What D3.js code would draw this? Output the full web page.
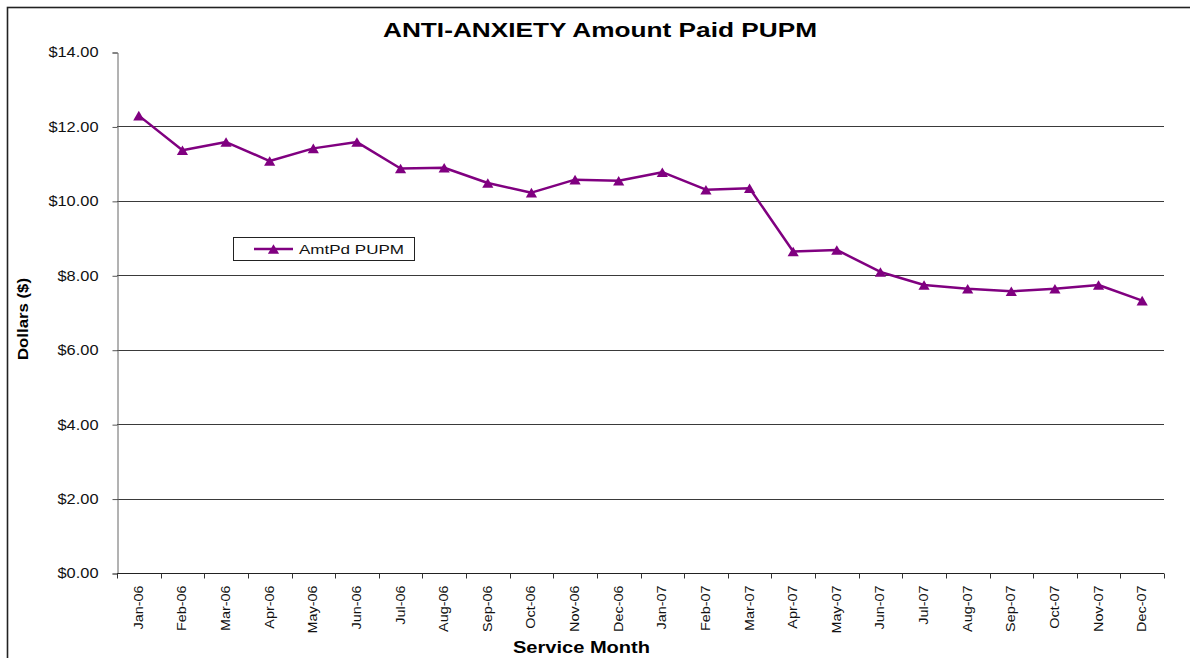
<!DOCTYPE html>
<html>
<head>
<meta charset="utf-8">
<script src="https://cdn.jsdelivr.net/npm/d3@7/dist/d3.min.js"></script>
<style>
  html, body { margin: 0; padding: 0; background: #fff; }
  svg { display: block; font-family: "Liberation Sans", Arial, sans-serif; }
</style>
</head>
<body>
<svg id="chart" width="1190" height="658"></svg>
<script>
// Service months (categories)
const months = ["Jan-06","Feb-06","Mar-06","Apr-06","May-06","Jun-06","Jul-06","Aug-06",
  "Sep-06","Oct-06","Nov-06","Dec-06","Jan-07","Feb-07","Mar-07","Apr-07","May-07",
  "Jun-07","Jul-07","Aug-07","Sep-07","Oct-07","Nov-07","Dec-07"];

// Amount paid per utilizing member per month, dollars
const amtPdPupm = [12.29, 11.36, 11.58, 11.07, 11.41, 11.58, 10.87, 10.89,
  10.48, 10.22, 10.57, 10.54, 10.77, 10.30, 10.34, 8.64, 8.68,
  8.09, 7.74, 7.64, 7.57, 7.64, 7.74, 7.32];

// Y axis tick values
const yTicks = [0, 2, 4, 6, 8, 10, 12, 14];

const seriesName = "AmtPd PUPM";
const titleText = "ANTI-ANXIETY Amount Paid PUPM";
const xTitle = "Service Month";
const yTitle = "Dollars ($)";

const purple = "#800080";
const svg = d3.select("#chart");

// Stretch text along its direction so the wide face of the chart font is kept
function stretch(sel, k) {
  sel.each(function () {
    const w = this.getComputedTextLength();
    this.setAttribute("textLength", (w * k).toFixed(1));
    this.setAttribute("lengthAdjust", "spacingAndGlyphs");
  });
}

// Chart frame
svg.append("rect")
  .attr("x", 7.5).attr("y", 7.5)
  .attr("width", 1200).attr("height", 700)
  .attr("fill", "none").attr("stroke", "#222").attr("stroke-width", 1.6);

const plot = { left: 117, right: 1164, top: 52, bottom: 573 };

const x = d3.scaleBand().domain(months).range([plot.left, plot.right]).padding(0);
const y = d3.scaleLinear().domain([0, 14]).range([plot.bottom, plot.top]);

// Horizontal gridlines
svg.append("g")
  .selectAll("line")
  .data(yTicks.filter(v => v > 0 && v < 14))
  .join("line")
  .attr("x1", plot.left).attr("x2", plot.right)
  .attr("y1", d => Math.round(y(d)) + 0.5).attr("y2", d => Math.round(y(d)) + 0.5)
  .attr("stroke", "#3a3a3a").attr("stroke-width", 1);

// Y axis
const yAxis = svg.append("g")
  .attr("transform", `translate(${plot.left + 0.5},0.5)`)
  .call(d3.axisLeft(y).tickValues(yTicks).tickSize(5).tickPadding(14)
    .tickFormat(d => "$" + d.toFixed(2)));
yAxis.select(".domain").attr("stroke", "#666");
yAxis.selectAll(".tick line").attr("stroke", "#555");
yAxis.selectAll("text")
  .attr("font-size", 14).attr("fill", "#111")
  .attr("font-family", "'Liberation Sans', Arial, sans-serif");
stretch(yAxis.selectAll("text"), 1.17);

// X axis with ticks on category boundaries
const xAxis = svg.append("g")
  .attr("transform", `translate(0,${plot.bottom + 0.5})`);
xAxis.append("line")
  .attr("x1", plot.left).attr("x2", plot.right)
  .attr("stroke", "#222");
xAxis.selectAll("line.tk")
  .data(months.concat(["end"]))
  .join("line").attr("class", "tk")
  .attr("x1", (d, i) => Math.round(i < months.length ? x(d) : plot.right) + 0.5)
  .attr("x2", (d, i) => Math.round(i < months.length ? x(d) : plot.right) + 0.5)
  .attr("y1", 0).attr("y2", 5)
  .attr("stroke", "#333");
const xLabels = xAxis.selectAll("text")
  .data(months)
  .join("text")
  .attr("transform", d => `translate(${x(d) + x.bandwidth() / 2 + 4},12) rotate(-90)`)
  .attr("text-anchor", "end")
  .attr("font-size", 12).attr("fill", "#111")
  .text(d => d);
stretch(xLabels, 1.2);

// Series line
const line = d3.line()
  .x((d, i) => x(months[i]) + x.bandwidth() / 2)
  .y(d => y(d));
svg.append("path")
  .datum(amtPdPupm)
  .attr("d", line)
  .attr("fill", "none").attr("stroke", purple)
  .attr("stroke-width", 2.5).attr("stroke-linejoin", "round");

// Triangle markers
const tri = "M0,-4.8L5.6,4.8L-5.6,4.8Z";
svg.append("g")
  .selectAll("path")
  .data(amtPdPupm)
  .join("path")
  .attr("transform", (d, i) => `translate(${x(months[i]) + x.bandwidth() / 2},${y(d)})`)
  .attr("d", tri)
  .attr("fill", purple);

// Legend
const lg = svg.append("g");
lg.append("rect")
  .attr("x", 233.5).attr("y", 237.5).attr("width", 181).attr("height", 23)
  .attr("fill", "#fff").attr("stroke", "#222").attr("stroke-width", 1);
lg.append("line")
  .attr("x1", 254).attr("x2", 293).attr("y1", 249).attr("y2", 249)
  .attr("stroke", purple).attr("stroke-width", 2.5);
lg.append("path")
  .attr("transform", "translate(273.5,249)")
  .attr("d", tri).attr("fill", purple);
const lgText = lg.append("text")
  .attr("x", 299).attr("y", 254)
  .attr("font-size", 13).attr("fill", "#111")
  .text(seriesName);
lgText.attr("textLength", 105).attr("lengthAdjust", "spacingAndGlyphs");

// Titles
svg.append("text")
  .attr("x", 600).attr("y", 37)
  .attr("text-anchor", "middle")
  .attr("font-size", 20).attr("font-weight", "bold").attr("fill", "#000")
  .attr("textLength", 434).attr("lengthAdjust", "spacingAndGlyphs")
  .text(titleText);

svg.append("text")
  .attr("x", 581.5).attr("y", 653)
  .attr("text-anchor", "middle")
  .attr("font-size", 16).attr("font-weight", "bold").attr("fill", "#000")
  .attr("textLength", 137).attr("lengthAdjust", "spacingAndGlyphs")
  .text(xTitle);

svg.append("text")
  .attr("transform", "translate(28,319) rotate(-90)")
  .attr("text-anchor", "middle")
  .attr("font-size", 15).attr("font-weight", "bold").attr("fill", "#000")
  .attr("textLength", 82).attr("lengthAdjust", "spacingAndGlyphs")
  .text(yTitle);
</script>
</body>
</html>
